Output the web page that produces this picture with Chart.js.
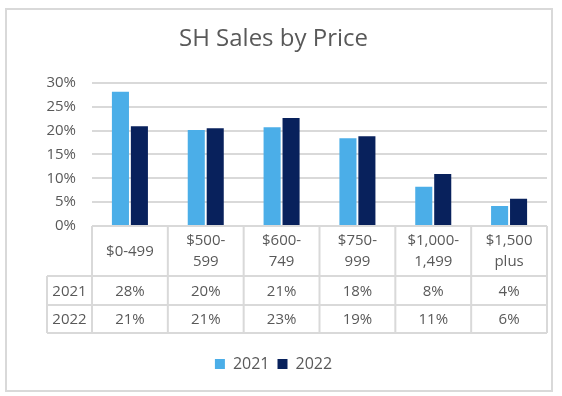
<!DOCTYPE html>
<html>
<head>
<meta charset="utf-8">
<script src="https://cdn.jsdelivr.net/npm/chart.js@4/dist/chart.umd.min.js"></script>
<style>
  html, body { margin: 0; padding: 0; background: #fff; }
  #wrap { position: relative; width: 562px; height: 396px; }
</style>
</head>
<body>
<div id="wrap"><canvas id="chart" width="562" height="396"></canvas></div>
<script>
// Datos del gráfico
const categorias = [["$0-499"], ["$500-", "599"], ["$600-", "749"], ["$750-", "999"], ["$1,000-", "1,499"], ["$1,500", "plus"]];
const anios = ["2021", "2022"];
const ventas2021 = [28.1, 20.1, 20.7, 18.4, 8.2, 4.2];
const ventas2022 = [20.9, 20.5, 22.6, 18.8, 10.9, 5.7];
const tabla2021 = ["28%", "20%", "21%", "18%", "8%", "4%"];
const tabla2022 = ["21%", "21%", "23%", "19%", "11%", "6%"];
const colores = ["#4baee8", "#08215c"];

const gris = "#d9d9d9";
const texto = "#595959";
const fuente = "'Open Sans', sans-serif";

// Plugin: borde exterior y tabla de datos bajo el eje
const tablaDatos = {
  id: "tablaDatos",
  beforeDraw(chart) {
    const ctx = chart.ctx;
    ctx.save();
    ctx.fillStyle = "#fff";
    ctx.fillRect(0, 0, chart.width, chart.height);
    ctx.strokeStyle = gris;
    ctx.lineWidth = 2;
    ctx.strokeRect(6, 9, 546, 382);
    ctx.restore();
  },
  afterDraw(chart) {
    const ctx = chart.ctx;
    const x = chart.scales.x;
    const area = chart.chartArea;
    const n = categorias.length;
    const paso = (x.right - x.left) / n;
    const top = area.bottom;
    const fila1 = top + 50;
    const fila2 = fila1 + 29;
    const fila3 = fila2 + 28;
    const izq = 47;

    ctx.save();
    ctx.strokeStyle = gris;
    ctx.lineWidth = 2;
    ctx.beginPath();
    // lineas horizontales
    ctx.moveTo(x.left, top); ctx.lineTo(x.right, top);
    [fila1, fila2, fila3].forEach(y => { ctx.moveTo(izq, y); ctx.lineTo(x.right, y); });
    // lineas verticales
    for (let i = 0; i <= n; i++) {
      const xx = x.left + paso * i;
      ctx.moveTo(xx, top); ctx.lineTo(xx, fila3);
    }
    ctx.moveTo(izq, fila1); ctx.lineTo(izq, fila3);
    ctx.stroke();

    ctx.fillStyle = texto;
    ctx.font = "15px " + fuente;
    ctx.textAlign = "center";
    ctx.textBaseline = "middle";
    categorias.forEach((lineas, i) => {
      const cx = x.getPixelForValue(i);
      if (lineas.length === 1) {
        ctx.fillText(lineas[0], cx, (top + fila1) / 2 + 1);
      } else {
        ctx.fillText(lineas[0], cx, top + 15);
        ctx.fillText(lineas[1], cx, top + 36);
      }
      ctx.fillText(tabla2021[i], cx, (fila1 + fila2) / 2 + 1);
      ctx.fillText(tabla2022[i], cx, (fila2 + fila3) / 2 + 1);
    });
    ctx.fillText(anios[0], (izq + x.left) / 2, (fila1 + fila2) / 2 + 1);
    ctx.fillText(anios[1], (izq + x.left) / 2, (fila2 + fila3) / 2 + 1);
    ctx.restore();
  }
};

const ctx = document.getElementById("chart").getContext("2d");
const grafico = new Chart(ctx, {
  type: "bar",
  data: {
    labels: categorias,
    datasets: [
      { label: anios[0], data: ventas2021, backgroundColor: colores[0] },
      { label: anios[1], data: ventas2022, backgroundColor: colores[1] }
    ]
  },
  options: {
    responsive: false,
    animation: false,
    categoryPercentage: 0.5,
    barPercentage: 0.9,
    layout: { padding: { top: 0, right: 15, bottom: 14, left: 0 } },
    plugins: {
      title: {
        display: true,
        text: "SH Sales by Price",
        color: texto,
        font: { family: fuente, size: 24, weight: "normal" },
        padding: { top: 25, bottom: 29 }
      },
      legend: {
        position: "bottom",
        labels: {
          color: texto,
          font: { family: fuente, size: 16 },
          boxWidth: 10,
          boxHeight: 10,
          padding: 8
        }
      },
      tooltip: { enabled: false }
    },
    scales: {
      x: {
        ticks: { display: false },
        grid: { display: false },
        border: { display: false },
        afterFit(scale) { scale.height = 122; }
      },
      y: {
        min: 0,
        max: 30,
        ticks: {
          stepSize: 5,
          padding: 16,
          color: texto,
          font: { family: fuente, size: 15 },
          callback: v => v + "%"
        },
        grid: { color: gris, lineWidth: 2, drawTicks: false },
        border: { display: false },
        afterFit(scale) { scale.width = 92; }
      }
    }
  },
  plugins: [tablaDatos]
});
</script>
</body>
</html>
